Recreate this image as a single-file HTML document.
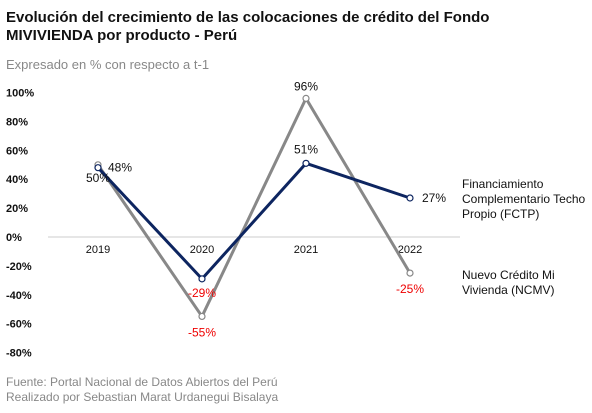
<!DOCTYPE html>
<html><head><meta charset="utf-8"><style>
body{margin:0;background:#fff;font-family:"Liberation Sans",sans-serif;}
svg text{font-family:"Liberation Sans",sans-serif;}
</style></head><body>
<svg id="c" width="592" height="408" xmlns="http://www.w3.org/2000/svg">
<text x="6" y="22" font-size="15" font-weight="bold" fill="#111">Evolución del crecimiento de las colocaciones de crédito del Fondo</text>
<text x="6" y="40" font-size="15" font-weight="bold" fill="#111">MIVIVIENDA por producto - Perú</text>
<text x="6" y="69" font-size="13" fill="#888">Expresado en % con respecto a t-1</text>
<text x="6" y="386" font-size="12" fill="#888">Fuente: Portal Nacional de Datos Abiertos del Perú</text>
<text x="6" y="401" font-size="12" fill="#888">Realizado por Sebastian Marat Urdanegui Bisalaya</text>
<g id="plot"></g>
</svg>
<script>
const categories=["2019","2020","2021","2022"];
const fctp=[48,-29,51,27];
const ncmv=[50,-55,96,-25];
const yTicks=[100,80,60,40,20,0,-20,-40,-60,-80];
const NS="http://www.w3.org/2000/svg";
const g=document.getElementById("plot");
const x=i=>98+i*104;
const y=v=>237-v*1.444;
function mk(t,a,txt){const e=document.createElementNS(NS,t);for(const k in a)e.setAttribute(k,a[k]);if(txt!=null)e.textContent=txt;g.appendChild(e);return e;}
yTicks.forEach(v=>{
 const t=mk("text",{x:6,y:y(v)+4,"font-size":11,"font-weight":"bold",fill:"#111"},v+"%");
 
 
});
const ax=mk("line",{x1:48,x2:460,y1:y(0),y2:y(0),stroke:"#ccc","stroke-width":1});


categories.forEach((c,i)=>{
 const t=mk("text",{x:x(i),y:y(0)+16,"font-size":11,fill:"#111","text-anchor":"middle"},c);
 
 
});
function series(vals,col,name){
 const p=mk("polyline",{points:vals.map((v,i)=>x(i)+","+y(v)).join(" "),fill:"none",stroke:col,"stroke-width":3,"stroke-linejoin":"round"});
 
 
}
series(ncmv,"#888","ncmv");
series(fctp,"#0d2560","fctp");
function pts(vals,col,name){
 vals.forEach((v,i)=>{
  const c=mk("circle",{cx:x(i),cy:y(v),r:3,fill:"#fff",stroke:col,"stroke-width":1.2});
  
  
 });
}
pts(ncmv,"#888","ncmv");pts(fctp,"#0d2560","fctp");
function lbl(v,i,dx,dy,anchor,name){
 const t=mk("text",{x:x(i)+dx,y:y(v)+dy,"font-size":12,fill:v<0?"#e00":"#111","text-anchor":anchor},v+"%");
 
 
}
lbl(fctp[0],0,10,4,"start","fctp");lbl(fctp[1],1,0,18,"middle","fctp");lbl(fctp[2],2,0,-10,"middle","fctp");lbl(fctp[3],3,12,4,"start","fctp");
lbl(ncmv[0],0,-12,17,"start","ncmv");lbl(ncmv[1],1,0,20,"middle","ncmv");lbl(ncmv[2],2,0,-8,"middle","ncmv");lbl(ncmv[3],3,0,20,"middle","ncmv");
[["Financiamiento",188],["Complementario Techo",203],["Propio (FCTP)",218]].forEach(a=>{
 const t=mk("text",{x:462,y:a[1],"font-size":12,fill:"#111"},a[0]);
 
 
});
[["Nuevo Crédito Mi",279],["Vivienda (NCMV)",294]].forEach(a=>{
 const t=mk("text",{x:462,y:a[1],"font-size":12,fill:"#111"},a[0]);
 
 
});
</script>
</body></html>
